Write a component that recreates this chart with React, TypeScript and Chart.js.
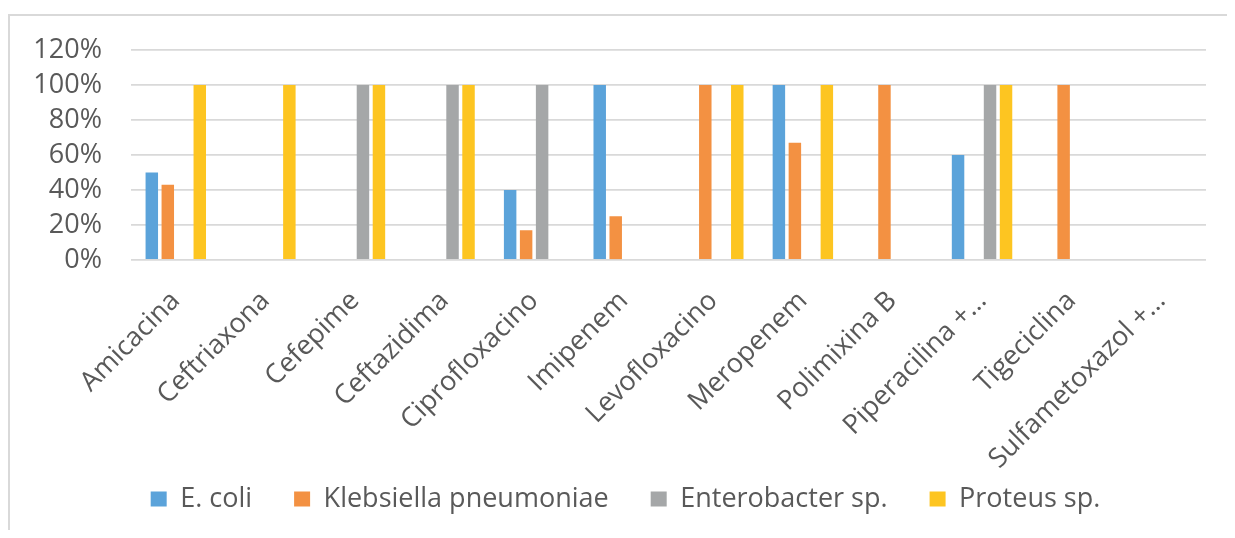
import React, { useEffect, useRef } from 'react';
import { Chart, registerables } from 'chart.js';

Chart.register(...registerables);

// Antibiotic categories along the x axis
const categories = [
  'Amicacina',
  'Ceftriaxona',
  'Cefepime',
  'Ceftazidima',
  'Ciprofloxacino',
  'Imipenem',
  'Levofloxacino',
  'Meropenem',
  'Polimixina B',
  'Piperacilina +…',
  'Tigeciclina',
  'Sulfametoxazol +…',
];

// Resistance percentages per organism (null = no bar)
const eColi = [50, null, null, null, 40, 100, null, 100, null, 60, null, null];
const klebsiella = [43, null, null, null, 17, 25, 100, 67, 100, null, 100, null];
const enterobacter = [null, null, 100, 100, 100, null, null, null, null, 100, null, null];
const proteus = [100, 100, 100, 100, null, null, 100, 100, null, 100, null, null];

const seriesNames = ['E. coli', 'Klebsiella pneumoniae', 'Enterobacter sp.', 'Proteus sp.'];
const seriesValues = [eColi, klebsiella, enterobacter, proteus];
const seriesColors = ['#5BA3DA', '#F39142', '#A5A7A8', '#FDC521'];

// Value axis range
const yMin = 0;
const yMax = 120;
const yStep = 20;

const textColor = '#595959';
const gridColor = '#D9D9D9';
const fontFamily = '"Open Sans", sans-serif';
const fontSize = 27;

// Nudges the legend row to the right and lets the rotated category
// labels extend below the axis box without being clipped.
const layoutTweaks = {
  id: 'layoutTweaks',
  afterLayout(chart: any) {
    const legend = chart.legend;
    if (legend) {
      legend.left += 17.5;
      legend.right += 17.5;
      chart.scales.x.bottom = legend.bottom;
    }
  },
};

export default function App() {
  const canvasRef = useRef<HTMLCanvasElement>(null);

  useEffect(() => {
    document.documentElement.style.overflow = 'hidden';
    const canvas = canvasRef.current;
    if (!canvas) return;
    const chart = new Chart(canvas, {
      type: 'bar',
      data: {
        labels: categories,
        datasets: seriesNames.map((name, i) => ({
          label: name,
          data: seriesValues[i],
          backgroundColor: seriesColors[i],
          borderWidth: 0,
          categoryPercentage: 0.714,
          barPercentage: 0.78,
        })),
      },
      options: {
        responsive: false,
        animation: false,
        layout: { padding: { left: 0, right: 29, top: 34, bottom: 7.5 } },
        plugins: {
          legend: {
            position: 'bottom',
            labels: {
              boxWidth: 16,
              boxHeight: 15,
              padding: 42,
              color: textColor,
              font: { family: fontFamily, size: fontSize },
            },
          },
          tooltip: { enabled: false },
        },
        scales: {
          x: {
            grid: { display: false, drawTicks: false },
            border: { display: false },
            ticks: {
              autoSkip: false,
              minRotation: 45,
              maxRotation: 45,
              padding: 25,
              color: textColor,
              font: { family: fontFamily, size: fontSize },
            },
            afterFit: (scale: any) => {
              scale.height = 183.5;
            },
          },
          y: {
            min: yMin,
            max: yMax,
            ticks: {
              stepSize: yStep,
              autoSkip: false,
              padding: 29,
              color: textColor,
              font: { family: fontFamily, size: fontSize },
              callback: (v: any) => `${v}%`,
            },
            grid: { color: gridColor, lineWidth: 1.8, drawTicks: false },
            border: { display: false },
            afterFit: (scale: any) => {
              scale.width = 121;
              scale.paddingTop = 0;
              scale.paddingBottom = 0;
            },
          },
        },
      },
      plugins: [layoutTweaks],
    });
    return () => chart.destroy();
  }, []);

  return (
    <div
      style={{
        marginTop: 6,
        width: 1240,
        height: 516,
        boxSizing: 'border-box',
        borderTop: '2px solid #D9D9D9',
        borderLeft: '2px solid #D9D9D9',
        overflow: 'hidden',
      }}
    >
      <canvas ref={canvasRef} width={1225} height={514} style={{ display: 'block' }} />
    </div>
  );
}
